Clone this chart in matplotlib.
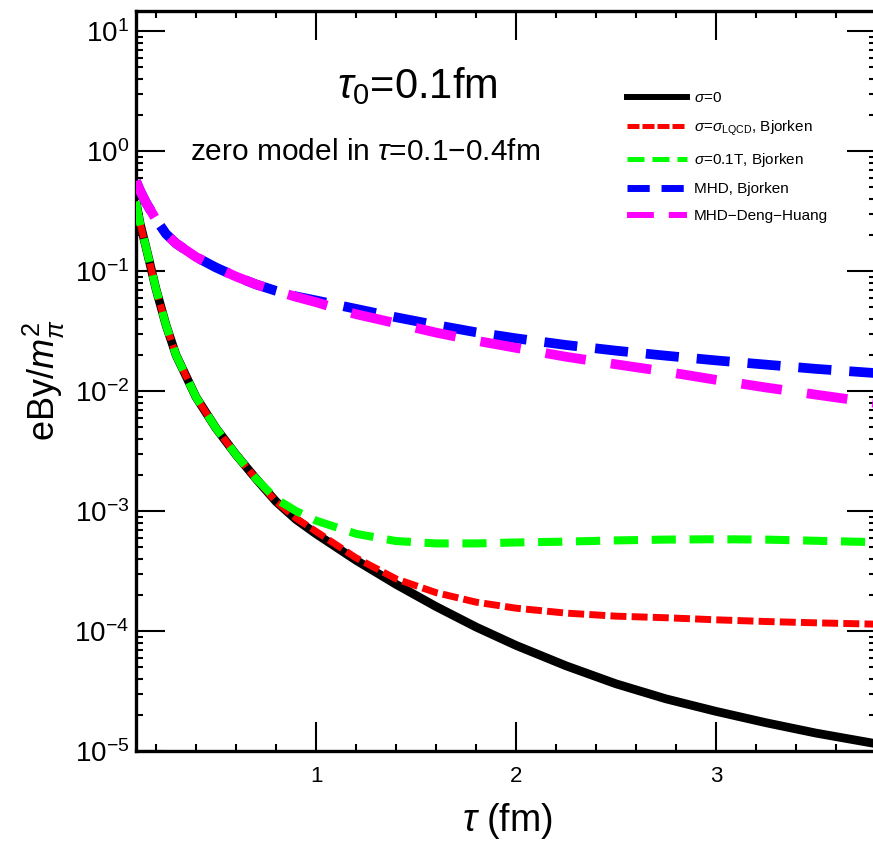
import matplotlib
matplotlib.use("Agg")
import matplotlib.pyplot as plt
from matplotlib.lines import Line2D
from matplotlib.ticker import FixedLocator, LogLocator, NullFormatter

plt.rcParams["font.family"] = ["Liberation Sans", "DejaVu Sans"]
plt.rcParams["mathtext.fontset"] = "custom"
plt.rcParams["mathtext.rm"] = "Liberation Sans"
plt.rcParams["mathtext.it"] = "Liberation Sans:italic"
plt.rcParams["mathtext.bf"] = "Liberation Sans:bold"

tau = [0.1, 0.12, 0.15, 0.2, 0.25, 0.3, 0.4, 0.5, 0.6, 0.7, 0.8, 0.9, 1.0,
       1.2, 1.4, 1.6, 1.8, 2.0, 2.25, 2.5, 2.75, 3.0, 3.25, 3.5, 3.8]

# eBy / m_pi^2
sigma0 = [0.380, 0.251, 0.158, 0.0708, 0.0355, 0.0200, 0.00891, 0.00490,
          0.00295, 0.00186, 0.00120, 8.51e-4, 6.46e-4, 3.89e-4, 2.45e-4,
          1.60e-4, 1.08e-4, 7.59e-5, 5.13e-5, 3.63e-5, 2.72e-5, 2.14e-5,
          1.72e-5, 1.41e-5, 1.15e-5]
sigma_lqcd = [0.380, 0.251, 0.158, 0.0708, 0.0355, 0.0200, 0.00891, 0.00490,
              0.00295, 0.00186, 0.00120, 8.71e-4, 6.76e-4, 4.07e-4, 2.72e-4,
              2.09e-4, 1.74e-4, 1.55e-4, 1.41e-4, 1.33e-4, 1.29e-4, 1.24e-4,
              1.20e-4, 1.17e-4, 1.14e-4]
sigma_01T = [0.380, 0.251, 0.158, 0.0708, 0.0355, 0.0200, 0.00891, 0.00490,
             0.00295, 0.00186, 0.00126, 1.00e-3, 8.32e-4, 6.46e-4, 5.62e-4,
             5.37e-4, 5.37e-4, 5.47e-4, 5.56e-4, 5.69e-4, 5.78e-4, 5.82e-4,
             5.78e-4, 5.65e-4, 5.50e-4]
mhd_bjorken = [0.562, 0.468, 0.372, 0.269, 0.204, 0.170, 0.131, 0.107,
               0.0900, 0.0774, 0.0684, 0.0615, 0.0569, 0.0484, 0.0412,
               0.0355, 0.0309, 0.0275, 0.0242, 0.0217, 0.0197, 0.0180,
               0.0166, 0.0153, 0.0141]
mhd_deng_huang = [0.562, 0.468, 0.372, 0.269, 0.204, 0.170, 0.131, 0.107,
                  0.0900, 0.0774, 0.0684, 0.0610, 0.0550, 0.0437, 0.0367,
                  0.0307, 0.0263, 0.0229, 0.0193, 0.0167, 0.0145, 0.0124,
                  0.0107, 0.00933, 0.00794]

labels = [r"$\sigma$=0", r"$\sigma$=$\sigma_{\rm LQCD}$, Bjorken",
          r"$\sigma$=0.1T, Bjorken", "MHD, Bjorken", "MHD\u2212Deng\u2212Huang"]

fig = plt.figure(figsize=(8.73, 8.43), dpi=100)
ax = fig.add_axes([136 / 873, 92 / 843, 740 / 873, 740 / 843])

ax.plot(tau, sigma0, color="black", lw=6.3, solid_capstyle="butt", zorder=2)
ax.plot(tau, sigma_lqcd, color="#ff0000", lw=5.0, ls=(0, (2.3, 0.75)), zorder=3)
ax.plot(tau, sigma_01T, color="#00ff00", lw=5.8, ls=(0, (3.0, 1.7)), zorder=4)
ax.plot(tau, mhd_bjorken, color="#0000ff", lw=7.0, ls=(0, (3.4, 1.85)), zorder=5)
ax.plot(tau, mhd_deng_huang, color="#ff00ff", lw=7.0, ls=(0, (4.2, 2.6)), zorder=6)

ax.set_yscale("log")
ax.set_xlim(0.1, 3.8)
ax.set_ylim(1e-5, 14.7)

ax.xaxis.set_major_locator(FixedLocator([1, 2, 3]))
ax.xaxis.set_minor_locator(FixedLocator([0.2, 0.4, 0.6, 0.8, 1.2, 1.4, 1.6, 1.8,
                                         2.2, 2.4, 2.6, 2.8, 3.2, 3.4, 3.6]))
ax.yaxis.set_major_locator(FixedLocator([1e-5, 1e-4, 1e-3, 1e-2, 1e-1, 1, 10]))
ax.yaxis.set_minor_locator(LogLocator(base=10, subs=range(2, 10), numticks=20))
ax.yaxis.set_minor_formatter(NullFormatter())
ax.yaxis.set_major_formatter(matplotlib.ticker.LogFormatterMathtext())

ax.tick_params(which="both", direction="in", top=True, right=True, width=1.5)
ax.tick_params(which="major", length=21)
ax.tick_params(axis="x", which="major", pad=11, labelsize=16)
ax.tick_params(axis="y", which="major", pad=5, labelsize=20)
ax.tick_params(which="minor", length=5)
for sp in ax.spines.values():
    sp.set_linewidth(2.4)

fig.text(507 / 873, 1 - 821 / 843, r"$\tau$ (fm)", ha="center", va="center", fontsize=27)
fig.text(44 / 873, 1 - 380 / 843, r"eBy/$m_\pi^2$", ha="center", va="center",
         rotation=90, fontsize=26)

fig.text(417 / 873, 1 - 98 / 843, r"$\tau_0$=0.1fm", ha="center", va="baseline",
         fontsize=30)
fig.text(190 / 873, 1 - 160 / 843, "zero model in $\\tau$=0.1\u22120.4fm",
         ha="left", va="baseline", fontsize=21.5)

handles = [
    Line2D([], [], color="black", lw=4.3),
    Line2D([], [], color="#ff0000", lw=3.6, ls=(0, (2.4, 0.6))),
    Line2D([], [], color="#00ff00", lw=3.6, ls=(0, (3.4, 1.6))),
    Line2D([], [], color="#0000ff", lw=5.0, ls=(0, (3.2, 1.7))),
    Line2D([], [], color="#ff00ff", lw=4.3, ls=(0, (4.5, 2.5))),
]
fig.legend(handles, labels, loc="upper left", bbox_to_anchor=(627 / 873, 1 - 91 / 843),
           frameon=False, fontsize=11, handlelength=3.9, handletextpad=0.5,
           labelspacing=0.87, borderpad=0, borderaxespad=0)

fig.savefig("out.png", dpi=100)
